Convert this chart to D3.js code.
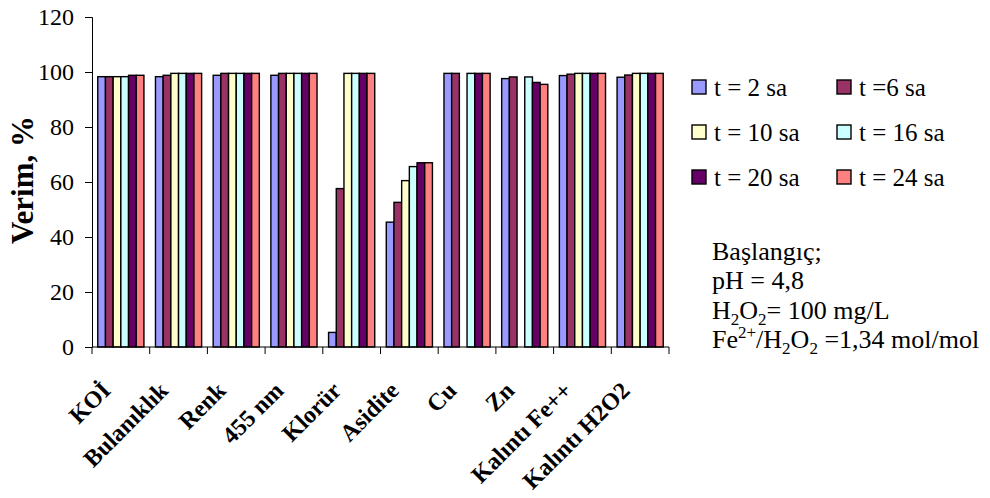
<!DOCTYPE html>
<html>
<head>
<meta charset="utf-8">
<script src="https://cdn.jsdelivr.net/npm/d3@7"></script>
<style>
  body { margin: 0; background: #fff; }
  svg { display: block; font-family: "Liberation Serif", "Times New Roman", serif; }
</style>
</head>
<body>
<svg id="chart" width="990" height="498"></svg>
<script>
  // parameters measured on each sample
  var categories = ["KOİ", "Bulanıklık", "Renk", "455 nm", "Klorür", "Asidite", "Cu", "Zn", "Kalıntı Fe++", "Kalıntı H2O2"];
  var seriesNames = ["t = 2 sa", "t =6 sa", "t = 10 sa", "t = 16 sa", "t = 20 sa", "t = 24 sa"];
  var t2 = [98.3, 98.3, 98.8, 98.8, 5.3, 45.4, 99.5, 97.6, 98.7, 98.1];
  var t6 = [98.3, 98.8, 99.5, 99.5, 57.6, 52.6, 99.5, 98.2, 99.2, 98.9];
  var t10 = [98.3, 99.5, 99.5, 99.5, 99.5, 60.5, null, null, 99.5, 99.5];
  var t16 = [98.3, 99.5, 99.5, 99.5, 99.5, 65.6, 99.5, 98.2, 99.5, 99.5];
  var t20 = [98.8, 99.5, 99.5, 99.5, 99.5, 67, 99.5, 96.2, 99.5, 99.5];
  var t24 = [98.8, 99.5, 99.5, 99.5, 99.5, 67, 99.5, 95.5, 99.5, 99.5];
  var yTicks = [0, 20, 40, 60, 80, 100, 120];
  var colors = ["#9999ff", "#993366", "#ffffcc", "#ccffff", "#660066", "#ff8080"];

  (function () {
    var seriesValues = [t2, t6, t10, t16, t20, t24];

    var svg = d3.select("#chart");
    var plotLeft = 92, plotRight = 669, plotTop = 17, plotBottom = 347;

    var x0 = d3.scaleBand().domain(categories).range([plotLeft, plotRight]);
    var groupW = x0.bandwidth() * 0.8;
    var x1 = d3.scaleBand().domain(d3.range(seriesNames.length))
      .range([(x0.bandwidth() - groupW) / 2, (x0.bandwidth() + groupW) / 2]);
    var y = d3.scaleLinear().domain([0, 120]).range([plotBottom, plotTop]);

    // bars
    var groups = svg.append("g").selectAll("g").data(categories).enter()
      .append("g")
      .attr("transform", function (d) { return "translate(" + x0(d) + ",0)"; });

    groups.selectAll("rect")
      .data(function (c, ci) {
        return seriesValues.map(function (vals, si) { return { s: si, v: vals[ci] }; })
          .filter(function (d) { return d.v != null; });
      })
      .enter().append("rect")
      .attr("x", function (d) { return x1(d.s); })
      .attr("width", x1.bandwidth())
      .attr("y", function (d) { return y(d.v); })
      .attr("height", function (d) { return y(0) - y(d.v); })
      .attr("fill", function (d) { return colors[d.s]; })
      .attr("stroke", "#000")
      .attr("stroke-width", 1.4);

    // y axis
    var yAxis = svg.append("g")
      .attr("transform", "translate(" + plotLeft + ",0)")
      .call(d3.axisLeft(y).tickValues(yTicks).tickSize(7).tickPadding(11));
    yAxis.selectAll("text").attr("font-size", 24).attr("font-family", "Liberation Serif").attr("fill", "#000");
    yAxis.selectAll("line, path").attr("stroke", "#000");

    // x axis, ticks between categories
    var xAxisG = svg.append("g").attr("transform", "translate(0," + plotBottom + ")");
    xAxisG.append("line").attr("x1", plotLeft).attr("x2", plotRight).attr("stroke", "#000").attr("stroke-width", 1.2);
    var bounds = categories.map(function (c) { return x0(c); }).concat([plotRight]);
    xAxisG.selectAll("line.tick").data(bounds).enter().append("line")
      .attr("class", "tick")
      .attr("x1", function (d) { return d; }).attr("x2", function (d) { return d; })
      .attr("y1", 0).attr("y2", 7).attr("stroke", "#000");

    xAxisG.selectAll("text").data(categories).enter().append("text")
      .attr("transform", function (d) {
        return "translate(" + (x0(d) + x0.bandwidth() / 2 - 9) + ",45) rotate(-45)";
      })
      .attr("text-anchor", "end")
      .attr("font-size", 24)
      .attr("font-weight", "bold")
      .text(function (d) { return d; });

    // y title
    svg.append("text")
      .attr("transform", "translate(33,180) rotate(-90)")
      .attr("text-anchor", "middle")
      .attr("font-size", 31)
      .attr("font-weight", "bold")
      .text("Verim, %");

    // legend
    var legItems = svg.append("g").selectAll("g").data(seriesNames).enter().append("g")
      .attr("transform", function (d, i) {
        return "translate(" + (i % 2 === 0 ? 692 : 837) + "," + (87 + Math.floor(i / 2) * 45) + ")";
      });
    legItems.append("rect")
      .attr("x", 0).attr("y", -7).attr("width", 14).attr("height", 14)
      .attr("fill", function (d, i) { return colors[i]; })
      .attr("stroke", "#000").attr("stroke-width", 1.4);
    legItems.append("text")
      .attr("x", 22).attr("y", 9)
      .attr("font-size", 25)
      .text(function (d) { return d; });

    // starting conditions
    var note = svg.append("g").attr("font-size", 26);
    note.append("text").attr("x", 712).attr("y", 260).text("Başlangıç;");
    note.append("text").attr("x", 712).attr("y", 289).text("pH = 4,8");
    var h2o2 = note.append("text").attr("x", 712).attr("y", 319);
    h2o2.append("tspan").text("H");
    h2o2.append("tspan").attr("font-size", 17).attr("dy", 6).text("2");
    h2o2.append("tspan").attr("dy", -6).text("O");
    h2o2.append("tspan").attr("font-size", 17).attr("dy", 6).text("2");
    h2o2.append("tspan").attr("dy", -6).text("= 100 mg/L");
    var fe = note.append("text").attr("x", 712).attr("y", 348);
    fe.append("tspan").text("Fe");
    fe.append("tspan").attr("font-size", 17).attr("dy", -10).text("2+");
    fe.append("tspan").attr("dy", 10).text("/H");
    fe.append("tspan").attr("font-size", 17).attr("dy", 6).text("2");
    fe.append("tspan").attr("dy", -6).text("O");
    fe.append("tspan").attr("font-size", 17).attr("dy", 6).text("2");
    fe.append("tspan").attr("dy", -6).text(" =1,34 mol/mol");
  })();
</script>
</body>
</html>
